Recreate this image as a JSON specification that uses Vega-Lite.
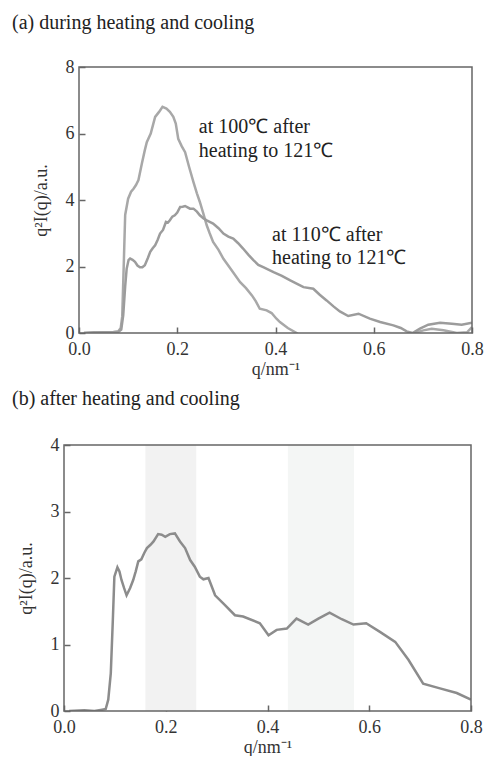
{
  "$schema": "https://vega.github.io/schema/vega-lite/v6.json",
  "padding": {"left": 12, "top": 13, "right": 0, "bottom": 0},
  "spacing": 11,
  "resolve": {"scale": {"color": "independent"}},
  "config": {
    "font": "Liberation Serif",
    "view": {"stroke": null},
    "title": {"font": "Liberation Serif", "fontSize": 20, "fontWeight": "normal", "color": "#222222", "anchor": "start", "frame": "group", "baseline": "alphabetic"},
    "axis": {
      "labelFont": "Liberation Serif", "titleFont": "Liberation Serif",
      "labelFontSize": 18, "titleFontSize": 18, "titleFontWeight": "normal",
      "labelColor": "#333333", "titleColor": "#333333",
      "tickColor": "#666666", "tickWidth": 1.5, "tickSize": -6,
      "grid": false, "domain": false, "labelFlush": false
    },
    "axisX": {"labelPadding": 13, "titlePadding": 2},
    "axisY": {"labelPadding": 11, "titlePadding": 15}
  },
  "datasets": {
    "curvesA": [
      {"q": 0.01, "I": 0.0, "s": "100"}, {"q": 0.03, "I": 0.02, "s": "100"}, {"q": 0.05, "I": 0.02, "s": "100"},
      {"q": 0.07, "I": 0.03, "s": "100"}, {"q": 0.08, "I": 0.05, "s": "100"}, {"q": 0.085, "I": 0.15, "s": "100"},
      {"q": 0.088, "I": 0.5, "s": "100"}, {"q": 0.091, "I": 2.0, "s": "100"}, {"q": 0.094, "I": 3.55, "s": "100"},
      {"q": 0.1, "I": 4.04, "s": "100"}, {"q": 0.106, "I": 4.25, "s": "100"}, {"q": 0.111, "I": 4.34, "s": "100"},
      {"q": 0.116, "I": 4.45, "s": "100"}, {"q": 0.121, "I": 4.6, "s": "100"}, {"q": 0.128, "I": 5.1, "s": "100"},
      {"q": 0.134, "I": 5.5, "s": "100"}, {"q": 0.138, "I": 5.74, "s": "100"}, {"q": 0.146, "I": 6.0, "s": "100"},
      {"q": 0.155, "I": 6.5, "s": "100"}, {"q": 0.163, "I": 6.65, "s": "100"}, {"q": 0.17, "I": 6.8, "s": "100"},
      {"q": 0.178, "I": 6.75, "s": "100"}, {"q": 0.185, "I": 6.65, "s": "100"}, {"q": 0.192, "I": 6.5, "s": "100"},
      {"q": 0.197, "I": 6.3, "s": "100"}, {"q": 0.202, "I": 5.84, "s": "100"}, {"q": 0.209, "I": 5.62, "s": "100"},
      {"q": 0.216, "I": 5.44, "s": "100"}, {"q": 0.224, "I": 5.0, "s": "100"}, {"q": 0.233, "I": 4.54, "s": "100"},
      {"q": 0.24, "I": 4.2, "s": "100"}, {"q": 0.246, "I": 3.94, "s": "100"}, {"q": 0.253, "I": 3.6, "s": "100"},
      {"q": 0.26, "I": 3.24, "s": "100"}, {"q": 0.266, "I": 3.0, "s": "100"}, {"q": 0.273, "I": 2.74, "s": "100"},
      {"q": 0.284, "I": 2.5, "s": "100"}, {"q": 0.294, "I": 2.23, "s": "100"}, {"q": 0.31, "I": 1.9, "s": "100"},
      {"q": 0.328, "I": 1.53, "s": "100"}, {"q": 0.34, "I": 1.35, "s": "100"}, {"q": 0.352, "I": 1.13, "s": "100"},
      {"q": 0.36, "I": 0.95, "s": "100"}, {"q": 0.368, "I": 0.73, "s": "100"}, {"q": 0.382, "I": 0.68, "s": "100"},
      {"q": 0.392, "I": 0.6, "s": "100"}, {"q": 0.402, "I": 0.43, "s": "100"}, {"q": 0.409, "I": 0.33, "s": "100"},
      {"q": 0.425, "I": 0.15, "s": "100"}, {"q": 0.443, "I": 0.0, "s": "100"}, {"q": 0.46, "I": -0.2, "s": "100"},
      {"q": 0.55, "I": -0.4, "s": "100"}, {"q": 0.65, "I": -0.2, "s": "100"}, {"q": 0.683, "I": 0.0, "s": "100"},
      {"q": 0.701, "I": 0.08, "s": "100"}, {"q": 0.718, "I": 0.13, "s": "100"}, {"q": 0.742, "I": 0.08, "s": "100"},
      {"q": 0.769, "I": 0.0, "s": "100"}, {"q": 0.79, "I": 0.02, "s": "100"}, {"q": 0.8, "I": 0.18, "s": "100"},
      {"q": 0.01, "I": 0.0, "s": "110"}, {"q": 0.05, "I": 0.02, "s": "110"}, {"q": 0.08, "I": 0.03, "s": "110"},
      {"q": 0.086, "I": 0.1, "s": "110"}, {"q": 0.09, "I": 0.53, "s": "110"}, {"q": 0.094, "I": 1.4, "s": "110"},
      {"q": 0.097, "I": 1.93, "s": "110"}, {"q": 0.101, "I": 2.2, "s": "110"}, {"q": 0.104, "I": 2.24, "s": "110"},
      {"q": 0.109, "I": 2.2, "s": "110"}, {"q": 0.114, "I": 2.14, "s": "110"}, {"q": 0.119, "I": 2.03, "s": "110"},
      {"q": 0.124, "I": 1.98, "s": "110"}, {"q": 0.129, "I": 1.98, "s": "110"}, {"q": 0.134, "I": 2.04, "s": "110"},
      {"q": 0.14, "I": 2.25, "s": "110"}, {"q": 0.145, "I": 2.44, "s": "110"}, {"q": 0.15, "I": 2.55, "s": "110"},
      {"q": 0.155, "I": 2.64, "s": "110"}, {"q": 0.16, "I": 2.8, "s": "110"}, {"q": 0.165, "I": 2.99, "s": "110"},
      {"q": 0.171, "I": 3.1, "s": "110"}, {"q": 0.177, "I": 3.34, "s": "110"}, {"q": 0.181, "I": 3.32, "s": "110"},
      {"q": 0.185, "I": 3.39, "s": "110"}, {"q": 0.19, "I": 3.5, "s": "110"}, {"q": 0.195, "I": 3.54, "s": "110"},
      {"q": 0.2, "I": 3.62, "s": "110"}, {"q": 0.206, "I": 3.79, "s": "110"}, {"q": 0.211, "I": 3.8, "s": "110"},
      {"q": 0.216, "I": 3.82, "s": "110"}, {"q": 0.221, "I": 3.78, "s": "110"}, {"q": 0.226, "I": 3.74, "s": "110"},
      {"q": 0.233, "I": 3.74, "s": "110"}, {"q": 0.24, "I": 3.65, "s": "110"}, {"q": 0.246, "I": 3.54, "s": "110"},
      {"q": 0.253, "I": 3.45, "s": "110"}, {"q": 0.26, "I": 3.39, "s": "110"}, {"q": 0.273, "I": 3.29, "s": "110"},
      {"q": 0.284, "I": 3.15, "s": "110"}, {"q": 0.294, "I": 2.99, "s": "110"}, {"q": 0.304, "I": 2.9, "s": "110"},
      {"q": 0.314, "I": 2.84, "s": "110"}, {"q": 0.324, "I": 2.7, "s": "110"}, {"q": 0.334, "I": 2.54, "s": "110"},
      {"q": 0.345, "I": 2.35, "s": "110"}, {"q": 0.355, "I": 2.19, "s": "110"}, {"q": 0.365, "I": 2.05, "s": "110"},
      {"q": 0.375, "I": 1.98, "s": "110"}, {"q": 0.396, "I": 1.83, "s": "110"}, {"q": 0.413, "I": 1.72, "s": "110"},
      {"q": 0.43, "I": 1.58, "s": "110"}, {"q": 0.444, "I": 1.48, "s": "110"}, {"q": 0.457, "I": 1.38, "s": "110"},
      {"q": 0.477, "I": 1.33, "s": "110"}, {"q": 0.49, "I": 1.15, "s": "110"}, {"q": 0.504, "I": 0.98, "s": "110"},
      {"q": 0.518, "I": 0.8, "s": "110"}, {"q": 0.531, "I": 0.65, "s": "110"}, {"q": 0.548, "I": 0.51, "s": "110"},
      {"q": 0.569, "I": 0.58, "s": "110"}, {"q": 0.592, "I": 0.43, "s": "110"}, {"q": 0.613, "I": 0.33, "s": "110"},
      {"q": 0.64, "I": 0.23, "s": "110"}, {"q": 0.655, "I": 0.15, "s": "110"}, {"q": 0.667, "I": 0.05, "s": "110"},
      {"q": 0.679, "I": 0.0, "s": "110"}, {"q": 0.694, "I": 0.13, "s": "110"}, {"q": 0.711, "I": 0.25, "s": "110"},
      {"q": 0.735, "I": 0.31, "s": "110"}, {"q": 0.759, "I": 0.28, "s": "110"}, {"q": 0.779, "I": 0.25, "s": "110"},
      {"q": 0.8, "I": 0.31, "s": "110"}
    ],
    "labelsA": [
      {"q": 0.244, "I": 6.2, "t": "at 100℃ after"},
      {"q": 0.244, "I": 5.47, "t": "heating to 121℃"},
      {"q": 0.393, "I": 2.95, "t": "at 110℃ after"},
      {"q": 0.393, "I": 2.26, "t": "heating to 121℃"}
    ],
    "curveB": [
      {"q": 0.01, "I": 0.0}, {"q": 0.04, "I": 0.01}, {"q": 0.06, "I": 0.0}, {"q": 0.075, "I": 0.02},
      {"q": 0.082, "I": 0.03}, {"q": 0.087, "I": 0.17}, {"q": 0.092, "I": 0.57}, {"q": 0.096, "I": 1.37},
      {"q": 0.099, "I": 2.02}, {"q": 0.105, "I": 2.16}, {"q": 0.109, "I": 2.1}, {"q": 0.113, "I": 1.97},
      {"q": 0.118, "I": 1.85}, {"q": 0.123, "I": 1.74}, {"q": 0.13, "I": 1.85}, {"q": 0.136, "I": 1.97},
      {"q": 0.141, "I": 2.1}, {"q": 0.146, "I": 2.25}, {"q": 0.152, "I": 2.28}, {"q": 0.158, "I": 2.38},
      {"q": 0.163, "I": 2.45}, {"q": 0.17, "I": 2.5}, {"q": 0.176, "I": 2.55}, {"q": 0.185, "I": 2.66},
      {"q": 0.192, "I": 2.65}, {"q": 0.199, "I": 2.62}, {"q": 0.208, "I": 2.66}, {"q": 0.218, "I": 2.67},
      {"q": 0.228, "I": 2.55}, {"q": 0.238, "I": 2.45}, {"q": 0.248, "I": 2.27}, {"q": 0.257, "I": 2.17},
      {"q": 0.267, "I": 2.02}, {"q": 0.274, "I": 1.98}, {"q": 0.284, "I": 2.0}, {"q": 0.297, "I": 1.74},
      {"q": 0.313, "I": 1.62}, {"q": 0.336, "I": 1.44}, {"q": 0.352, "I": 1.42}, {"q": 0.385, "I": 1.32},
      {"q": 0.402, "I": 1.14}, {"q": 0.418, "I": 1.22}, {"q": 0.438, "I": 1.24}, {"q": 0.457, "I": 1.39},
      {"q": 0.48, "I": 1.3}, {"q": 0.5, "I": 1.39}, {"q": 0.522, "I": 1.48}, {"q": 0.546, "I": 1.38},
      {"q": 0.569, "I": 1.3}, {"q": 0.594, "I": 1.32}, {"q": 0.621, "I": 1.19}, {"q": 0.651, "I": 1.04},
      {"q": 0.677, "I": 0.77}, {"q": 0.706, "I": 0.41}, {"q": 0.739, "I": 0.34}, {"q": 0.772, "I": 0.27},
      {"q": 0.8, "I": 0.17}
    ],
    "bandsB": [
      {"start": 0.16, "end": 0.26, "region": "first"},
      {"start": 0.44, "end": 0.57, "region": "second"}
    ],
    "frame": [{"id": 1}]
  },
  "vconcat": [
    {
      "width": 408,
      "height": 266,
      "title": {"text": "(a) during heating and cooling", "dx": -52, "offset": 25},
      "layer": [
        {
          "data": {"name": "curvesA"},
          "mark": {"type": "line", "strokeWidth": 2.5, "clip": true},
          "encoding": {
            "x": {"field": "q", "type": "quantitative",
                  "scale": {"domain": [0, 0.8], "range": [15, 408], "nice": false, "zero": false},
                  "axis": {"values": [0, 0.2, 0.4, 0.6, 0.8], "format": ".1f", "title": "q/nm⁻¹"}},
            "y": {"field": "I", "type": "quantitative",
                  "scale": {"domain": [0, 8], "nice": false},
                  "axis": {"values": [0, 2, 4, 6, 8], "offset": -15, "title": "q²I(q)/a.u."}},
            "color": {"field": "s", "type": "nominal", "scale": {"domain": ["100", "110"], "range": ["#a8a8a8", "#9c9c9c"]}, "legend": null},
            "detail": {"field": "s"}
          }
        },
        {
          "data": {"name": "labelsA"},
          "mark": {"type": "text", "align": "left", "baseline": "middle", "font": "Liberation Serif", "fontSize": 20, "color": "#222222"},
          "encoding": {
            "x": {"field": "q", "type": "quantitative",
                  "axis": {"values": [0, 0.2, 0.4, 0.6, 0.8], "format": ".1f", "title": "q/nm⁻¹"}},
            "y": {"field": "I", "type": "quantitative",
                  "axis": {"values": [0, 2, 4, 6, 8], "offset": -15, "title": "q²I(q)/a.u."}},
            "text": {"field": "t"}
          }
        },
        {
          "data": {"name": "frame"},
          "mark": {"type": "rect", "filled": false, "stroke": "#666666", "strokeWidth": 1.5},
          "encoding": {
            "x": {"datum": 0, "type": "quantitative",
                  "axis": {"values": [0, 0.2, 0.4, 0.6, 0.8], "format": ".1f", "title": "q/nm⁻¹"}},
            "x2": {"datum": 0.8},
            "y": {"datum": 0, "type": "quantitative",
                  "axis": {"values": [0, 2, 4, 6, 8], "offset": -15, "title": "q²I(q)/a.u."}},
            "y2": {"datum": 8}
          }
        }
      ]
    },
    {
      "width": 407,
      "height": 266,
      "title": {"text": "(b) after heating and cooling", "dx": -52, "offset": 27},
      "layer": [
        {
          "data": {"name": "bandsB"},
          "mark": {"type": "rect"},
          "encoding": {
            "x": {"field": "start", "type": "quantitative",
                  "axis": {"values": [0, 0.2, 0.4, 0.6, 0.8], "format": ".1f", "title": "q/nm⁻¹"}},
            "x2": {"field": "end"},
            "color": {"field": "region", "type": "nominal", "scale": {"domain": ["first", "second"], "range": ["#f2f2f2", "#f4f6f5"]}, "legend": null}
          }
        },
        {
          "data": {"name": "curveB"},
          "mark": {"type": "line", "strokeWidth": 2.5, "color": "#8c8c8c", "clip": true},
          "encoding": {
            "x": {"field": "q", "type": "quantitative",
                  "scale": {"domain": [0, 0.8], "nice": false, "zero": false},
                  "axis": {"values": [0, 0.2, 0.4, 0.6, 0.8], "format": ".1f", "title": "q/nm⁻¹"}},
            "y": {"field": "I", "type": "quantitative",
                  "scale": {"domain": [0, 4], "nice": false},
                  "axis": {"values": [0, 1, 2, 3, 4], "title": "q²I(q)/a.u."}}
          }
        },
        {
          "data": {"name": "frame"},
          "mark": {"type": "rect", "filled": false, "stroke": "#666666", "strokeWidth": 1.5},
          "encoding": {
            "x": {"datum": 0, "type": "quantitative",
                  "axis": {"values": [0, 0.2, 0.4, 0.6, 0.8], "format": ".1f", "title": "q/nm⁻¹"}},
            "x2": {"datum": 0.8},
            "y": {"datum": 0, "type": "quantitative",
                  "axis": {"values": [0, 1, 2, 3, 4], "title": "q²I(q)/a.u."}},
            "y2": {"datum": 4}
          }
        }
      ]
    }
  ]
}
